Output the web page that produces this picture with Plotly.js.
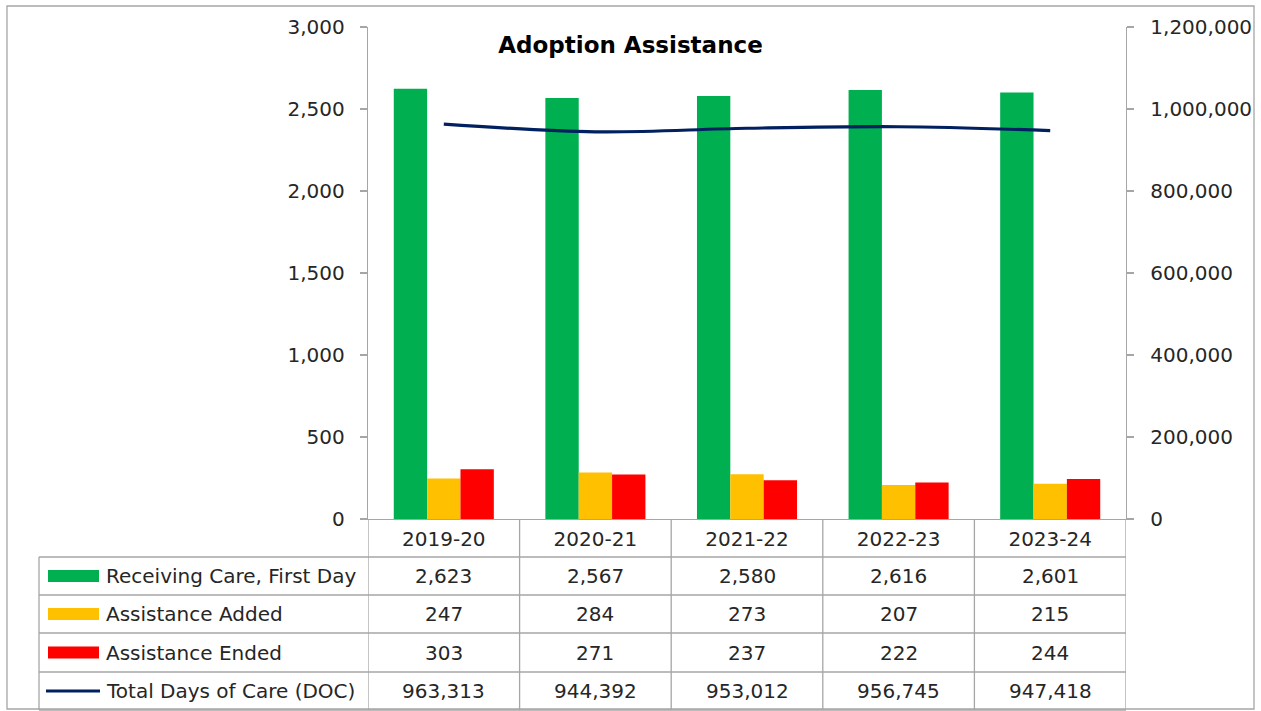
<!DOCTYPE html>
<html><head><meta charset="utf-8">
<script src="https://cdn.plot.ly/plotly-3.0.1.min.js"></script>
<style>html,body{margin:0;padding:0;background:#fff}#chart{width:1261px;height:711px}</style>
</head><body><div id="chart"></div>
<script>
const categories = ['2019-20','2020-21','2021-22','2022-23','2023-24'];
const receivingCare = [2623,2567,2580,2616,2601];
const assistanceAdded = [247,284,273,207,215];
const assistanceEnded = [303,271,237,222,244];
const totalDaysOfCare = [963313,944392,953012,956745,947418];
const seriesNames = ['Receiving Care, First Day','Assistance Added','Assistance Ended','Total Days of Care (DOC)'];
const colors = ['#00B050','#FFC000','#FF0000','#002060'];

const FONT = '"DejaVu Sans", Inter, sans-serif';
const FS = 20;
const TXT = '#262626';
const GRID = '#A6A6A6';
const W=1261, H=711, L=368, R=1126, T=27, B=519;
const pw=R-L, ph=B-T;
const px = x => (x-L)/pw;
const py = y => (B-y)/ph;
const rowEdges = [519,557,595,633,672,710];
const tableLeft = 39;

const traces = [
  {type:'bar', name:seriesNames[0], x:categories, y:receivingCare, marker:{color:colors[0]}, yaxis:'y'},
  {type:'bar', name:seriesNames[1], x:categories, y:assistanceAdded, marker:{color:colors[1]}, yaxis:'y'},
  {type:'bar', name:seriesNames[2], x:categories, y:assistanceEnded, marker:{color:colors[2]}, yaxis:'y'},
  {type:'scatter', mode:'lines', name:seriesNames[3], x:categories, y:totalDaysOfCare, yaxis:'y2',
   line:{color:colors[3], width:3.2, shape:'spline'}}
];

const shapes = [];
const annotations = [];
shapes.push({type:'rect', xref:'paper', yref:'paper', x0:px(7), x1:px(1254), y0:py(6), y1:py(709), line:{color:GRID, width:1.3}, layer:'below'});
for (let i=1;i<rowEdges.length;i++){
  shapes.push({type:'line', xref:'paper', yref:'paper', x0:px(tableLeft), x1:px(R), y0:py(rowEdges[i]), y1:py(rowEdges[i]), line:{color:GRID, width:1.3}});
}
for (let i=0;i<=categories.length;i++){
  shapes.push({type:'line', xref:'x', yref:'paper', x0:i-0.5, x1:i-0.5, y0:py(rowEdges[0]), y1:py(rowEdges[rowEdges.length-1]), line:{color:GRID, width:1.3}});
}
shapes.push({type:'line', xref:'paper', yref:'paper', x0:px(tableLeft), x1:px(tableLeft), y0:py(rowEdges[1]), y1:py(rowEdges[rowEdges.length-1]), line:{color:GRID, width:1.3}});

const rowData = [receivingCare, assistanceAdded, assistanceEnded, totalDaysOfCare];
for (let r=0;r<4;r++){
  const yc = (rowEdges[r+1]+rowEdges[r+2])/2;
  if (r<3){
    shapes.push({type:'rect', xref:'paper', yref:'paper', x0:px(48), x1:px(99), y0:py(yc-6), y1:py(yc+6), fillcolor:colors[r], line:{width:0}});
  } else {
    shapes.push({type:'line', xref:'paper', yref:'paper', x0:px(46), x1:px(100), y0:py(yc), y1:py(yc), line:{color:colors[r], width:3.2}});
  }
  annotations.push({xref:'paper', yref:'paper', x:px(104), y:py(yc), xanchor:'left', yanchor:'middle', text:seriesNames[r], showarrow:false, font:{family:FONT, size:FS, color:TXT}});
  rowData[r].forEach((v,i)=>{
    annotations.push({xref:'x', yref:'paper', x:categories[i], y:py(yc), xanchor:'center', yanchor:'middle', text:v.toLocaleString('en-US'), showarrow:false, font:{family:FONT, size:FS, color:TXT}});
  });
}

const layout = {
  width:W, height:H, autosize:false,
  margin:{l:L, r:W-R, t:T, b:H-B, pad:0},
  paper_bgcolor:'#fff', plot_bgcolor:'#fff',
  showlegend:false,
  barmode:'group', bargap:0.34, bargroupgap:0,
  font:{family:FONT, size:FS, color:TXT},
  title:{text:'<b>Adoption Assistance</b>', x:0.5, xref:'container', y:1-45/711, yanchor:'middle', yref:'container', font:{family:FONT, size:23, color:'#000'}},
  xaxis:{type:'category', range:[-0.5,4.5], showline:true, linecolor:GRID, linewidth:1.3, ticks:'', showgrid:false, zeroline:false, fixedrange:true, ticklabelstandoff:2, tickfont:{family:FONT, size:FS, color:TXT}},
  yaxis:{range:[0,3000], dtick:500, tickformat:',d', showline:true, linecolor:GRID, linewidth:1.3, ticks:'outside', ticklen:7, tickcolor:GRID, tickwidth:1.3, showgrid:false, zeroline:false, ticklabelstandoff:11, tickfont:{family:FONT, size:FS, color:TXT}},
  yaxis2:{range:[0,1200000], dtick:200000, tickformat:',d', overlaying:'y', side:'right', showline:true, linecolor:GRID, linewidth:1.3, ticks:'outside', ticklen:7, tickcolor:GRID, tickwidth:1.3, showgrid:false, zeroline:false, ticklabelstandoff:12, tickfont:{family:FONT, size:FS, color:TXT}},
  shapes, annotations
};
Plotly.newPlot('chart', traces, layout, {staticPlot:true, displayModeBar:false});
</script></body></html>
